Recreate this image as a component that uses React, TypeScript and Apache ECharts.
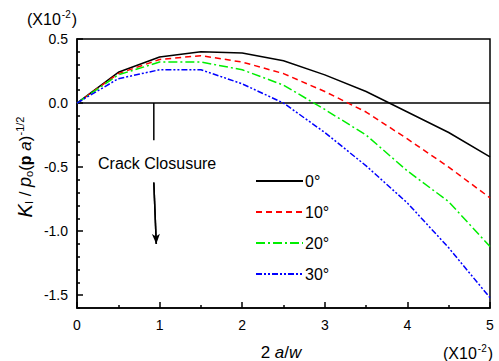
import React, { useEffect, useRef } from "react";
import * as echarts from "echarts";

const xValues = [0, 0.5, 1, 1.5, 2, 2.5, 3, 3.5, 4, 4.5, 5];
const deg0 = [0, 0.24, 0.36, 0.4, 0.39, 0.33, 0.22, 0.09, -0.07, -0.23, -0.42];
const deg10 = [0, 0.23, 0.34, 0.37, 0.32, 0.23, 0.09, -0.07, -0.28, -0.5, -0.74];
const deg20 = [0, 0.22, 0.32, 0.32, 0.26, 0.14, -0.05, -0.25, -0.53, -0.77, -1.12];
const deg30 = [0, 0.19, 0.26, 0.26, 0.15, 0.0, -0.23, -0.49, -0.78, -1.13, -1.52];
const seriesNames = ["0°", "10°", "20°", "30°"];
const yMajorTicks = [-1.5, -1.0, -0.5, 0, 0.5];
const yMinorTicks = [-1.6, -1.4, -1.3, -1.2, -1.1, -0.9, -0.8, -0.7, -0.6, -0.4, -0.3, -0.2, -0.1, 0.1, 0.2, 0.3, 0.4];
const closureLine = [[0.93, 0], [0.93, -0.29]];
const closureArrow = [[0.93, -0.62], [0.96, -1.1]];

const FONT = "Liberation Sans, Arial, sans-serif";

export default function App() {
  const ref = useRef<HTMLDivElement>(null);
  useEffect(() => {
    if (!ref.current) return;
    const chart = echarts.init(ref.current, null, { renderer: "svg" });
    const pair = (ys: number[]) => xValues.map((x, i) => [x, ys[i]]);
    const mk = (name: string, ys: number[], color: string, type: any) => ({
      name,
      type: "line",
      data: pair(ys),
      symbol: "none",
      showSymbol: false,
      lineStyle: { color, width: 1.5, type },
      itemStyle: { color },
      z: 5,
    });
    const supRich = {
      n: { fontSize: 16, fontFamily: FONT, fill: "#000" },
      s: { fontSize: 10, fontFamily: FONT, fill: "#000", padding: [0, 1, 9, 1] },
    };
    chart.setOption({
      animation: false,
      textStyle: { fontFamily: FONT },
      grid: {
        left: 77,
        right: 9,
        top: 39,
        bottom: 53,
        show: true,
        borderColor: "#000",
        borderWidth: 1.5,
      },
      legend: {
        orient: "vertical",
        left: 255,
        top: 173,
        padding: 0,
        itemWidth: 47,
        itemHeight: 10,
        itemGap: 15,
        data: seriesNames,
        itemStyle: { opacity: 0 },
        textStyle: { fontSize: 16, color: "#000", fontFamily: FONT, padding: [0, 0, 0, -3] },
      },
      xAxis: {
        type: "value",
        min: 0,
        max: 5,
        interval: 1,
        axisLine: { show: true, onZero: false, lineStyle: { color: "#000", width: 1.5 } },
        axisTick: { show: true, inside: true, length: 6, lineStyle: { color: "#000", width: 1.5 } },
        minorTick: { show: true, splitNumber: 2, length: 3, lineStyle: { color: "#000", width: 1.5 } },
        axisLabel: { fontSize: 14, color: "#000", margin: 10, fontFamily: FONT },
        splitLine: { show: false },
      },
      yAxis: [
        {
          type: "value",
          min: -1.6,
          max: 0.5,
          axisLine: { show: true, onZero: false, lineStyle: { color: "#000", width: 1.5 } },
          axisTick: {
            show: true,
            inside: true,
            length: 6,
            customValues: yMajorTicks,
            lineStyle: { color: "#000", width: 1.5 },
          },
          axisLabel: {
            fontSize: 14,
            color: "#000",
            margin: 9,
            fontFamily: FONT,
            customValues: yMajorTicks,
            formatter: (v: number) => v.toFixed(1),
          },
          splitLine: { show: false },
        },
        {
          type: "value",
          min: -1.6,
          max: 0.5,
          position: "left",
          axisLine: { show: false, onZero: false },
          axisTick: {
            show: true,
            inside: true,
            length: 3,
            customValues: yMinorTicks,
            lineStyle: { color: "#000", width: 1.5 },
          },
          axisLabel: { show: false },
          splitLine: { show: false },
        },
      ],
      series: [
        mk(seriesNames[0], deg0, "#000000", "solid"),
        mk(seriesNames[1], deg10, "#ff0000", [6, 4]),
        mk(seriesNames[2], deg20, "#00ee00", [9, 3, 2, 3]),
        mk(seriesNames[3], deg30, "#0000ff", [6, 2, 2, 2, 2, 2]),
        {
          type: "line",
          data: [[0, 0], [5, 0]],
          symbol: "none",
          lineStyle: { color: "#000", width: 1.5 },
          z: 4,
          silent: true,
        },
        {
          type: "line",
          data: closureArrow,
          symbol: "none",
          lineStyle: { color: "#000", width: 1.5 },
          z: 4,
          silent: true,
        },
        {
          type: "line",
          data: closureLine,
          symbol: "none",
          lineStyle: { color: "#000", width: 1.5 },
          silent: true,
          markLine: {
            silent: true,
            symbol: ["none", "arrow"],
            symbolSize: [6, 10],
            label: { show: false },
            lineStyle: { color: "#000", width: 1.5, type: "solid" },
            data: [[{ coord: closureArrow[0] }, { coord: closureArrow[1] }]],
          },
        },
      ],
      graphic: [
        {
          type: "text",
          x: 98,
          y: 163,
          style: { text: "Crack Closusure", font: `16px ${FONT}`, fill: "#000", verticalAlign: "middle" },
        },
        {
          type: "text",
          x: 27,
          y: 19,
          style: { text: "{n|(X10}{s|-2}{n|)}", fill: "#000", verticalAlign: "middle", rich: supRich },
        },
        {
          type: "text",
          x: 443,
          y: 353,
          style: { text: "{n|(X10}{s|-2}{n|)}", fill: "#000", verticalAlign: "middle", rich: supRich },
        },
        {
          type: "text",
          x: 281,
          y: 352,
          style: {
            text: "{n|2 }{i|a}{n|/}{i|w}",
            fill: "#000",
            align: "center",
            verticalAlign: "middle",
            rich: {
              n: { fontSize: 17, fontFamily: FONT, fill: "#000" },
              i: { fontSize: 17, fontFamily: FONT, fontStyle: "italic", fill: "#000" },
            },
          },
        },
        {
          type: "text",
          x: 25,
          y: 167,
          rotation: Math.PI / 2,
          style: {
            text: "{k|K}{ks|I}{n| / }{p|p}{ps|o}{n|(}{b|p}{n| }{a|a}{n|)}{sup|-1/2}",
            fill: "#000",
            align: "center",
            verticalAlign: "middle",
            rich: {
              k: { fontSize: 20, fontFamily: FONT, fontStyle: "italic", fill: "#000" },
              ks: { fontSize: 11, fontFamily: FONT, fill: "#000", padding: [8, 0, 0, 0] },
              n: { fontSize: 17, fontFamily: FONT, fill: "#000" },
              p: { fontSize: 18, fontFamily: FONT, fontStyle: "italic", fill: "#000" },
              ps: { fontSize: 11, fontFamily: FONT, fill: "#000", padding: [8, 0, 0, 0] },
              b: { fontSize: 16, fontFamily: FONT, fontWeight: "bold", fill: "#000" },
              a: { fontSize: 17, fontFamily: FONT, fontStyle: "italic", fill: "#000" },
              sup: { fontSize: 11, fontFamily: FONT, fill: "#000", padding: [0, 0, 10, 0] },
            },
          },
        },
      ],
    });
    return () => chart.dispose();
  }, []);
  return <div ref={ref} style={{ width: 499, height: 361, position: "absolute", left: 0, top: 0 }} />;
}
